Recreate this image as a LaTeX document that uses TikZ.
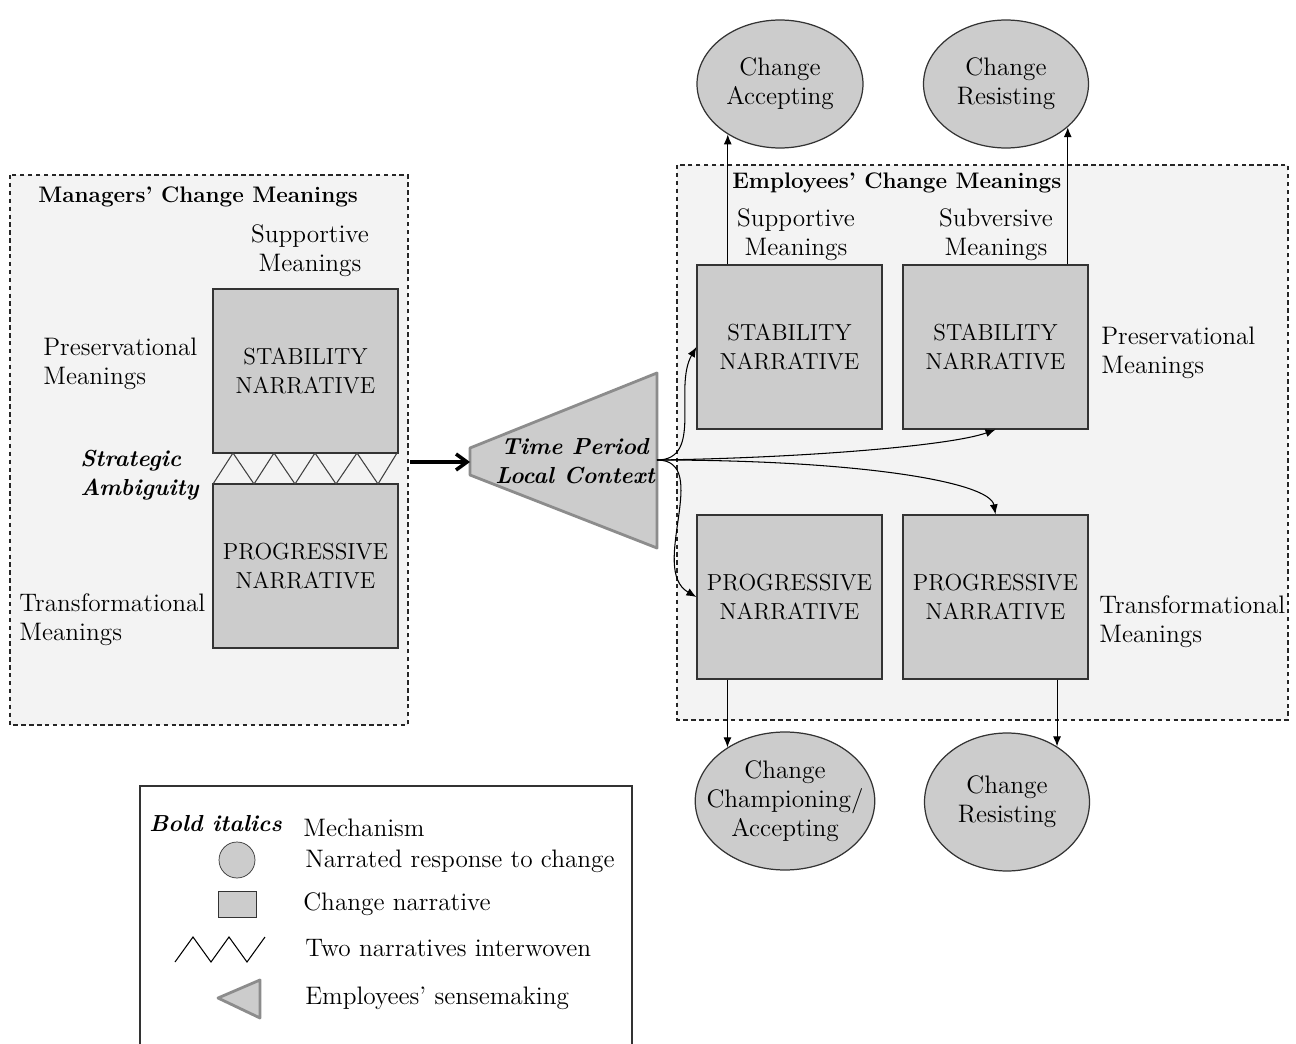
\documentclass[tikz,border=0pt]{standalone}
\usepackage{xcolor}
\usepackage{tikz}
\usetikzlibrary{arrows.meta,positioning,shapes.geometric}

\definecolor{boxgray}{HTML}{CCCCCC}
\definecolor{panelgray}{HTML}{F3F3F3}
\definecolor{edgegray}{HTML}{8C8C8C}

\begin{document}
\begin{tikzpicture}[
  x=0.02cm, y=-0.02cm,
  every node/.style={font=\fontsize{14.4}{16.5}\selectfont},
  panel/.style={draw=black!85, dash pattern=on 2.5pt off 2pt, fill=panelgray, line width=0.6pt},
  narr/.style={draw=black!80, fill=boxgray, minimum width=3.7cm, minimum height=3.28cm, align=center, inner sep=0pt, line width=0.7pt, font=\fontsize{13.2}{16.5}\selectfont},
  resp/.style={ellipse, draw=black!80, fill=boxgray, align=center, inner sep=0pt, line width=0.7pt},
  lbl/.style={align=left, anchor=west, inner sep=0pt},
  ttl/.style={anchor=west, inner sep=0pt, font=\fontsize{12.8}{16}\selectfont\bfseries},
  mech/.style={align=left, inner sep=0pt, font=\fontsize{13.2}{16.5}\selectfont\bfseries\itshape},
  flow/.style={-{Latex[length=2mm,width=1.6mm]}, line width=0.6pt},
  weave/.style={draw=black!75, line width=0.6pt}
]
\useasboundingbox (0,0) rectangle (1296,1044);

% panels
\draw[panel] (10,175) rectangle (408,725);
\draw[panel] (677,165) rectangle (1288,720);

% managers' side
\node[ttl] (mtitle) at (38,197) {Managers' Change Meanings};
\node[align=center, inner sep=0pt] (msupp) at (310,251) {Supportive\\Meanings};
\node[narr] (mstab) at (305.5,371) {STABILITY\\NARRATIVE};
\node[narr] (mprog) at (305.5,566) {PROGRESSIVE\\NARRATIVE};
\node[lbl] (mpres) at (43,364) {Preservational\\Meanings};
\node[mech, anchor=west] (ambig) at (80,475) {Strategic\\Ambiguity};
\node[lbl] (mtrans) at (19,620) {Transformational\\Meanings};
\draw[weave] (213,484) -- (233,453) -- (254,484) -- (274,453) -- (295,484)
  -- (315,453) -- (336,484) -- (357,453) -- (378,484) -- (397,453);

% sensemaking funnel
\coordinate (mout) at (410,462);
\coordinate (ftip) at (470,462);
\coordinate (fan) at (657,460);
\draw[draw=edgegray, fill=boxgray, line width=1.6pt, line join=round]
  (470,448) -- (657,373) -- (657,548) -- (470,475) -- cycle;
\node[mech, align=center] (ctx) at (575,461) {Time Period\\Local Context};
\draw[-{Straight Barb[length=2.2mm,width=3.2mm]}, line width=2pt] (mout) -- (ftip);

% employees' side
\node[ttl] (etitle) at (732,183) {Employees' Change Meanings};
\node[align=center, inner sep=0pt] (esupp) at (796,235) {Supportive\\Meanings};
\node[align=center, inner sep=0pt] (esubv) at (996,235) {Subversive\\Meanings};
\node[narr] (estab1) at (789.5,347) {STABILITY\\NARRATIVE};
\node[narr] (estab2) at (995.5,347) {STABILITY\\NARRATIVE};
\node[narr] (eprog1) at (789.5,597) {PROGRESSIVE\\NARRATIVE};
\node[narr] (eprog2) at (995.5,597) {PROGRESSIVE\\NARRATIVE};
\node[lbl] (epres) at (1101,353) {Preservational\\Meanings};
\node[lbl] (etrans) at (1099,622) {Transformational\\Meanings};

% responses
\node[resp, minimum width=3.32cm, minimum height=2.56cm] (acc) at (780,84) {Change\\Accepting};
\node[resp, minimum width=3.3cm, minimum height=2.56cm] (res) at (1006,84) {Change\\Resisting};
\node[resp, inner xsep=-0.3cm, minimum width=3.5cm, minimum height=2.76cm] (champ) at (785,801) {Change\\Championing/\\Accepting};
\node[resp, minimum width=3.3cm, minimum height=2.76cm] (resb) at (1007,802) {Change\\Resisting};

\draw[flow] (fan) to[out=0, in=240] (estab1.west);
\draw[flow] (fan) .. controls (800,458) and (950,446) .. (estab2.south);
\draw[flow] (fan) .. controls (860,460) and (990,482) .. (eprog2.north);
\draw[flow] (fan) to[out=0, in=150] (eprog1.west);

\draw[flow] (acc.224 |- estab1.north) -- (acc.224);
\draw[flow] (res.-35 |- estab2.north) -- (res.-35);
\draw[flow] (champ.137 |- eprog1.south) -- (champ.137);
\draw[flow] (resb.48 |- eprog2.south) -- (resb.48);

% key
\draw[draw=black!80, line width=0.8pt] (140,1050) -- (140,786) -- (632,786) -- (632,1050);
\node[mech, anchor=west] (kbold) at (149,824) {Bold italics};
\node[lbl] (kmech) at (303,828) {Mechanism};
\node[circle, draw=black!80, fill=boxgray, minimum size=0.72cm, inner sep=0pt] (kcirc) at (237,860) {};
\node[lbl] (kresp) at (305,861) {Narrated response to change};
\node[draw=black!80, fill=boxgray, minimum width=0.76cm, minimum height=0.52cm, inner sep=0pt] (kbox) at (237,904) {};
\node[lbl] (knarr) at (303,904) {Change narrative};
\draw[line width=0.6pt] (175,962) -- (193,937) -- (211,962) -- (229,937) -- (247,962) -- (265,937);
\node[lbl] (kweave) at (305,948) {Two narratives interwoven};
\draw[draw=edgegray, fill=boxgray, line width=1.6pt, line join=round]
  (218,998) -- (260,980) -- (260,1018) -- cycle;
\node[lbl] (ksense) at (305,998) {Employees' sensemaking};
\end{tikzpicture}
\end{document}
